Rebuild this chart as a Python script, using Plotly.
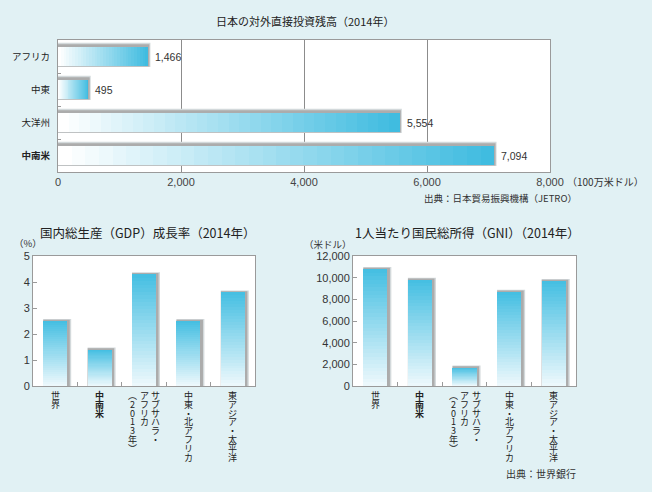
import plotly.graph_objects as go

W, H = 652, 492
BG = '#e1f1f4'
JP = 'Noto Sans CJK JP'
NUM = 'Liberation Sans, Noto Sans CJK JP'

# ---------------- data ----------------
fdi_regions = ["アフリカ", "中東", "大洋州", "中南米"]
fdi_values = [1466, 495, 5554, 7094]
fdi_ticks = [0, 2000, 4000, 6000, 8000]

bottom_categories = ["世界", "中南米", "サブサハラ・アフリカ（2013年）", "中東・北アフリカ", "東アジア・太平洋"]
bottom_label_columns = [["世界"], ["中南米"], ["サブサハラ・", "アフリカ", "（2013年）"],
                        ["中東・北アフリカ"], ["東アジア・太平洋"]]
gdp_values = [2.5, 1.4, 4.3, 2.5, 3.6]
gdp_ticks = [0, 1, 2, 3, 4, 5]
gni_values = [10800, 9800, 1700, 8700, 9700]
gni_ticks = [0, 2000, 4000, 6000, 8000, 10000, 12000]
bold_category = "中南米"

# ---------------- helpers ----------------
N = 32


def lerp(c0, c1, t):
    return 'rgb(%d,%d,%d)' % tuple(round(a + (b - a) * t) for a, b in zip(c0, c1))


def px_y(y):
    return 1 - y / H


def px_x(x):
    return x / W


fig = go.Figure()
SHADOW_OUT = '#d3d9db'
SHADOW_IN = '#acacac'

# ---- top chart: horizontal gradient bars ----
for col, lw, off in [(SHADOW_OUT, 4.5, -0.35), (SHADOW_IN, 2.5, -0.335)]:
    fig.add_trace(go.Bar(y=fdi_regions, x=fdi_values, orientation='h', width=0.6, offset=off,
                         marker=dict(color=col, line=dict(color=col, width=lw)),
                         xaxis='x', yaxis='y', hoverinfo='skip', showlegend=False))
c_start, c_end = (255, 255, 255), (64, 188, 224)
for k in range(N):
    fig.add_trace(go.Bar(y=fdi_regions,
                         x=[v * (N - k) / N for v in fdi_values],
                         base=[v * k / N for v in fdi_values],
                         orientation='h', width=0.6, offset=-0.3,
                         marker=dict(color=lerp(c_start, c_end, k / (N - 1)), line=dict(width=0)),
                         xaxis='x', yaxis='y', hoverinfo='skip', showlegend=False))

# ---- bottom charts: vertical gradient bars ----
v_start, v_end = (236, 248, 252), (70, 191, 226)
for vals, xa, ya in [(gdp_values, 'x2', 'y2'), (gni_values, 'x3', 'y3')]:
    for col, lw, off in [(SHADOW_OUT, 4, -0.225), (SHADOW_IN, 2.5, -0.24)]:
        fig.add_trace(go.Bar(x=bottom_categories, y=vals, width=0.54, offset=off,
                             marker=dict(color=col, line=dict(color=col, width=lw)),
                             xaxis=xa, yaxis=ya, hoverinfo='skip', showlegend=False))
    for k in range(N):
        fig.add_trace(go.Bar(x=bottom_categories,
                             y=[v * (N - k) / N for v in vals],
                             base=[v * k / N for v in vals],
                             width=0.54, offset=-0.27,
                             marker=dict(color=lerp(v_start, v_end, k / (N - 1)), line=dict(width=0)),
                             xaxis=xa, yaxis=ya, hoverinfo='skip', showlegend=False))

# ---------------- axes ----------------
border = dict(showline=True, mirror=True, linecolor='#9a9a9a', linewidth=1, automargin=False)
top_ticktext = ['<b>%s</b>' % r if r == bold_category else r for r in fdi_regions]

fig.update_layout(
    width=W, height=H, margin=dict(l=0, r=0, t=0, b=0, pad=0, autoexpand=False),
    paper_bgcolor=BG, plot_bgcolor='white', barmode='overlay', bargap=0, showlegend=False,
    font=dict(family=JP, color='#222'),
    xaxis=dict(domain=[px_x(58), px_x(550)], range=[0, 8000], tickvals=fdi_ticks,
               ticktext=['{:,}'.format(t) for t in fdi_ticks], showgrid=True,
               gridcolor='#8c8c8c', gridwidth=1, zeroline=False, ticks='', anchor='y',
               tickfont=dict(family=NUM, size=11, color='#444'), fixedrange=True, **border),
    yaxis=dict(domain=[px_y(172), px_y(40)], type='category', categoryorder='array',
               categoryarray=fdi_regions, range=[3.5, -0.5], tickvals=fdi_regions,
               ticktext=top_ticktext, ticks='inside', tickson='boundaries', ticklen=3,
               tickcolor='#9a9a9a', showgrid=False, anchor='x', ticklabelstandoff=5,
               tickfont=dict(family=JP, size=9.5, color='#222'), fixedrange=True, **border),
    xaxis2=dict(domain=[px_x(33), px_x(255)], type='category', categoryorder='array',
                categoryarray=bottom_categories, range=[-0.5, 4.5], showticklabels=False,
                ticks='inside', tickson='boundaries', ticklen=4, tickcolor='#9a9a9a',
                showgrid=False, anchor='y2', fixedrange=True, **border),
    yaxis2=dict(domain=[px_y(386), px_y(256)], range=[0, 5], tickvals=gdp_ticks,
                ticks='inside', ticklen=4, tickcolor='#9a9a9a', showgrid=False,
                zeroline=False, anchor='x2',
                tickfont=dict(family=NUM, size=11, color='#333'), fixedrange=True, **border),
    xaxis3=dict(domain=[px_x(353), px_x(576)], type='category', categoryorder='array',
                categoryarray=bottom_categories, range=[-0.5, 4.5], showticklabels=False,
                ticks='inside', tickson='boundaries', ticklen=4, tickcolor='#9a9a9a',
                showgrid=False, anchor='y3', fixedrange=True, **border),
    yaxis3=dict(domain=[px_y(386), px_y(256)], range=[0, 12000], tickvals=gni_ticks,
                ticktext=['{:,}'.format(t) for t in gni_ticks],
                ticks='inside', ticklen=4, tickcolor='#9a9a9a', showgrid=False,
                zeroline=False, anchor='x3',
                tickfont=dict(family=NUM, size=11, color='#333'), fixedrange=True, **border),
)

# ---------------- texts ----------------
ann = []


def paper_text(text, x, y, anchor='left', size=10, family=JP, color='#222'):
    ann.append(dict(text=text, x=px_x(x), y=px_y(y), xref='paper', yref='paper',
                    xanchor=anchor, yanchor='middle', showarrow=False,
                    font=dict(size=size, family=family, color=color)))


paper_text('日本の対外直接投資残高（2014年）', 305, 21, 'center', 11)
paper_text('（100万米ドル）', 565, 182, 'left', 10, color='#333')
paper_text('出典：日本貿易振興機構（JETRO）', 579, 198, 'right', 9.5, color='#333')
paper_text('国内総生産（GDP）成長率（2014年）', 38, 232, 'left', 12.5)
paper_text('（%）', 12, 243, 'left', 9.5, color='#333')
paper_text('1人当たり国民総所得（GNI）（2014年）', 353, 232, 'left', 12.5)
paper_text('（米ドル）', 354, 244, 'right', 9.5, color='#333')
paper_text('出典：世界銀行', 578, 473, 'right', 10, color='#333')

for r, v in zip(fdi_regions, fdi_values):
    ann.append(dict(text='{:,}'.format(v), x=v, y=r, xref='x', yref='y', xanchor='left',
                    yanchor='middle', xshift=5, showarrow=False,
                    font=dict(size=10.5, family=NUM, color='#333')))

VERT = {'（': '︵', '）': '︶'}
for xa in ['x2', 'x3']:
    for cat, cols in zip(bottom_categories, bottom_label_columns):
        n = len(cols)
        for j, col in enumerate(cols):
            xs = ((n - 1) / 2 - j) * 11.5
            for k, ch in enumerate(col):
                t = VERT.get(ch, ch)
                if cat == bold_category:
                    t = '<b>%s</b>' % t
                ann.append(dict(text=t, x=cat, xref=xa, y=px_y(395.5 + k * 8.8), yref='paper',
                                xanchor='center', yanchor='middle', xshift=xs, showarrow=False,
                                font=dict(size=9, family=JP, color='#222')))

fig.update_layout(annotations=ann)
fig.write_html('out.html', config={'displayModeBar': False, 'staticPlot': True},
               post_script="document.body.style.margin='0';document.body.style.overflow='hidden';")
